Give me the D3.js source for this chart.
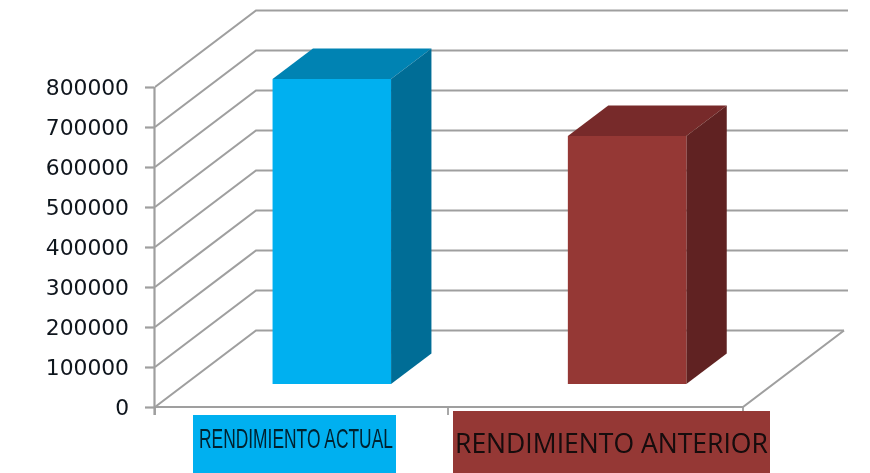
<!DOCTYPE html>
<html><head><meta charset="utf-8">
<script src="https://cdn.jsdelivr.net/npm/d3@7"></script>
<style>html,body{margin:0;padding:0;background:#fff}svg{display:block}</style>
</head><body><svg id="c" width="870" height="473"></svg>
<script>
const categories = ["RENDIMIENTO ACTUAL", "RENDIMIENTO ANTERIOR"];
const values = [762500, 620000];
const tickValues = [0,100000,200000,300000,400000,500000,600000,700000,800000];
const frontColors = ["#00b0f0", "#953735"];
const topColors = ["#0083b3", "#772c2a"];
const sideColors = ["#006d96", "#602220"];

const svg = d3.select("#c");
svg.append("defs").append("filter").attr("id","soft")
   .attr("filterUnits","userSpaceOnUse").attr("x",0).attr("y",0).attr("width",870).attr("height",473)
   .append("feGaussianBlur").attr("stdDeviation",0.7);
const g = svg.append("g").attr("filter","url(#soft)");

const y = d3.scaleLinear().domain([0,800000]).range([407,87]);
const x = d3.scaleBand().domain(categories).range([155,743]);
// depth: 0 = front of floor, 1 = back wall
const dx = d3.scaleLinear().domain([0,1]).range([0,101]);
const dy = d3.scaleLinear().domain([0,1]).range([0,-76.5]);
const grid = "#9f9f9f";

// gridlines: side wall + back wall
tickValues.forEach(v=>{
  g.append("path").attr("fill","none").attr("stroke",grid).attr("stroke-width",2.1)
   .attr("d", d3.line()([[155,y(v)],[155+dx(1),y(v)+dy(1)],[v===0?743+dx(1):848,y(v)+dy(1)]]));
});
// floor right edge and front edge
g.append("path").attr("fill","none").attr("stroke",grid).attr("stroke-width",2.1)
 .attr("d", d3.line()([[743+dx(1),y(0)+dy(1)],[743,y(0)],[155,y(0)]]));
// value axis
g.append("line").attr("x1",154.5).attr("x2",154.5).attr("y1",y(800000)).attr("y2",415).attr("stroke",grid).attr("stroke-width",2.2);
const axis = d3.axisLeft(y).tickValues(tickValues).tickFormat(d3.format("d")).tickSize(9).tickPadding(16);
const ag = g.append("g").attr("transform","translate(154,0)").call(axis);
ag.select(".domain").remove();
ag.selectAll("line").attr("stroke",grid).attr("stroke-width",2.2);
ag.selectAll("text").attr("font-family","'DejaVu Sans'").attr("font-size",21.8).attr("fill","#10141c").attr("dy","0.36em");
// category ticks
[155,448,743].forEach(t=>g.append("line").attr("x1",t).attr("x2",t).attr("y1",y(0)).attr("y2",415).attr("stroke",grid).attr("stroke-width",1.8));

// bars
const d0=.3,d1=.7;
const nudge=[-0.5,0.8];
categories.forEach((c,i)=>{
  const bw=x.bandwidth()*0.403, xl=x(c)+x.bandwidth()/2-bw/2+dx(d0)+nudge[i], xr=xl+bw;
  const yt=y(values[i])+dy(d0), yb=y(0)+dy(d0);
  const ox=dx(d1-d0), oy=dy(d1-d0);
  const poly=(pts,col)=>g.append("polygon").attr("points",pts.join(" ")).attr("fill",col);
  poly([[xl,yt],[xr,yt],[xr+ox,yt+oy],[xl+ox,yt+oy]],topColors[i]);
  poly([[xr,yt],[xr+ox,yt+oy],[xr+ox,yb+oy],[xr,yb]],sideColors[i]);
  poly([[xl,yt],[xr,yt],[xr,yb],[xl,yb]],frontColors[i]);
});

// label boxes
const boxes=[[193,415,203,58],[453,411,317,62]];
const texts=[[199,448,194,"'Liberation Sans Narrow','Liberation Sans'",27,"#06202e"],[455,453,313,"'Open Sans'",27.5,"#120a0c"]];
categories.forEach((c,i)=>{
  const b=boxes[i], t=texts[i];
  g.append("rect").attr("x",b[0]).attr("y",b[1]).attr("width",b[2]).attr("height",b[3]).attr("fill",frontColors[i]);
  const label=g.append("text").attr("font-family",t[3]).attr("font-size",t[4]).attr("fill",t[5]).text(c);
  // squeeze the label horizontally to the width it has in the picture
  const sx=t[2]/label.node().getComputedTextLength();
  label.attr("transform",`translate(${t[0]},${t[1]}) scale(${sx},1)`);
});
</script></body></html>
